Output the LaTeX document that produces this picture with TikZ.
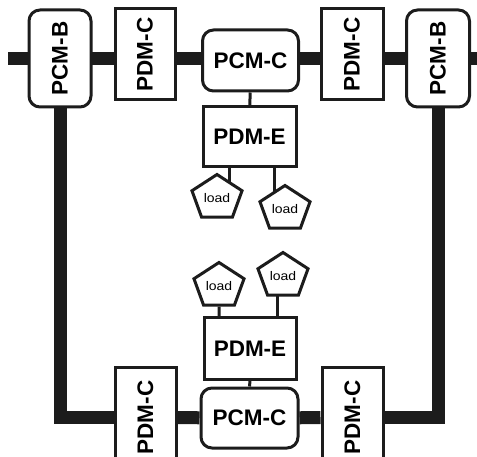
\documentclass[tikz,border=0pt]{standalone}
\usepackage{fontspec}
\setmainfont{Liberation Sans}
\usetikzlibrary{shapes.geometric,backgrounds}
\definecolor{ink}{RGB}{28, 28, 28}

\begin{document}
\begin{tikzpicture}[x=1pt, y=-1pt,
    box/.style={draw=ink, line width=3pt, fill=white, inner sep=0pt,
        font=\fontsize{22.5}{22.5}\selectfont\bfseries},
    rbox/.style={box, rounded corners=11pt},
    vbox/.style={box, rotate=90},
    vrbox/.style={rbox, rotate=90},
    load/.style={draw=ink, line width=3pt, fill=white, inner sep=0pt,
        regular polygon, regular polygon sides=5, minimum size=47pt, xscale=1.12,
        font=\fontsize{12.5}{12.5}\selectfont},
    bus/.style={draw=ink, line width=13pt},
    wire/.style={draw=ink, line width=3pt}]
    \useasboundingbox (0,0) rectangle (477,457);

    % top row
    \node[vrbox, minimum width=97pt, minimum height=62pt] (pcmbL) at (60,58.5) {PCM-B};
    \node[vbox, minimum width=91pt, minimum height=60pt] (pdmcTL) at (145,54.5) {PDM-C};
    \node[rbox, minimum width=96pt, minimum height=61pt] (pcmcT) at (250.5,60.5) {PCM-C};
    \node[vbox, minimum width=91pt, minimum height=62pt] (pdmcTR) at (352,54.5) {PDM-C};
    \node[vrbox, minimum width=97pt, minimum height=63pt] (pcmbR) at (438,58.5) {PCM-B};
    \coordinate (westend) at (8,58.5);
    \coordinate (eastend) at (480,58.5);

    \node[box, minimum width=93pt, minimum height=60pt] (pdmeT) at (249.5,137) {PDM-E};
    \node[load] (loadTL) at (217,198) {load};
    \node[load] (loadTR) at (285,209) {load};

    % bottom row
    \node[vbox, minimum width=100pt, minimum height=61pt] (pdmcBL) at (145.5,417.5) {PDM-C};
    \node[rbox, minimum width=97pt, minimum height=60pt] (pcmcB) at (249.5,418) {PCM-C};
    \node[vbox, minimum width=100pt, minimum height=61pt] (pdmcBR) at (352.5,417.5) {PDM-C};

    \node[box, minimum width=92pt, minimum height=61pt] (pdmeB) at (250,348.5) {PDM-E};
    \node[load] (loadBL) at (219,286) {load};
    \node[load] (loadBR) at (283,276) {load};

    \begin{scope}[on background layer]
        \draw[bus] (westend) -- (eastend);
        \draw[bus] (pcmbL) |- (pdmcBL);
        \draw[bus] (pcmbR) |- (pdmcBR);
        \draw[bus] (pdmcBL) -- (pcmcB) -- (pdmcBR);
        \draw[wire] (pcmcT) -- (pdmeT);
        \draw[wire] (pcmcB) -- (pdmeB);
        \draw[wire] ([xshift=12pt]loadTL.center) -- ([xshift=12pt]loadTL.center |- pdmeT.center);
        \draw[wire] ([xshift=-11pt]loadTR.center) -- ([xshift=-11pt]loadTR.center |- pdmeT.center);
        \draw[wire] (loadBL) -- (loadBL |- pdmeB);
        \draw[wire] ([xshift=-6pt]loadBR.center) -- ([xshift=-6pt]loadBR.center |- pdmeB.center);
    \end{scope}
\end{tikzpicture}
\end{document}
